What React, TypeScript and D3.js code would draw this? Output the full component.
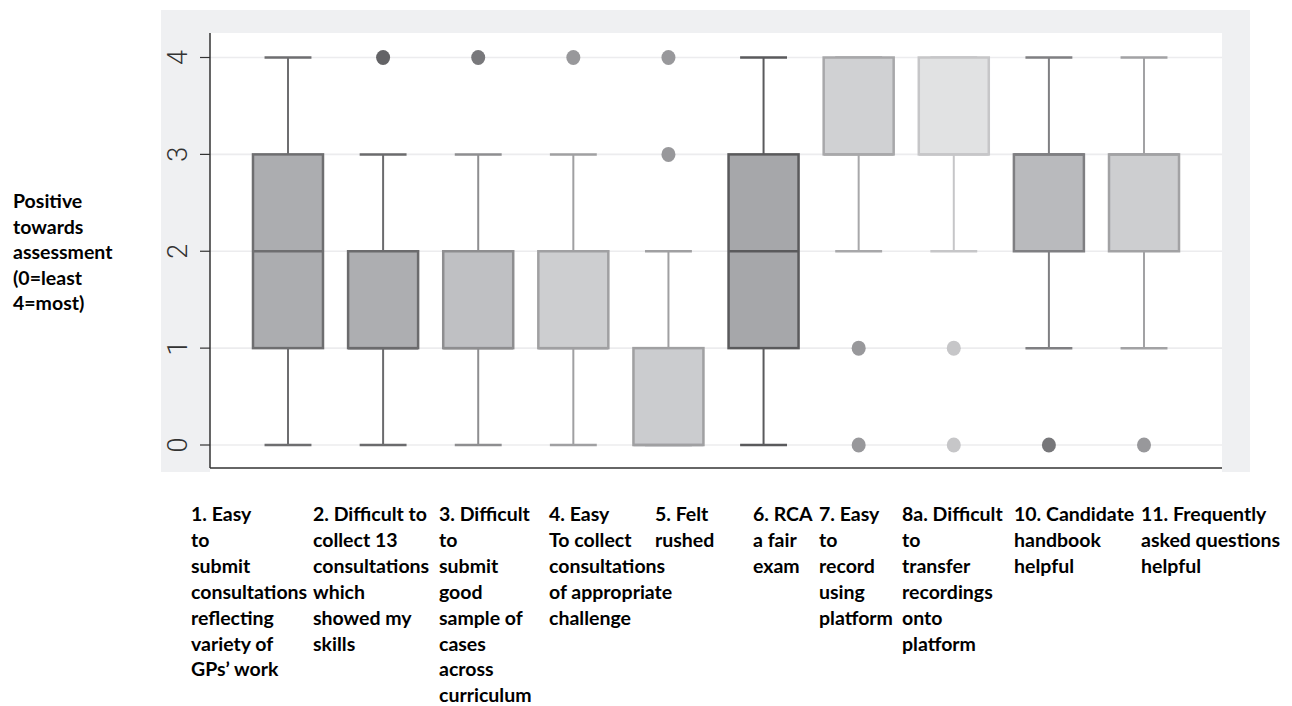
import React from "react";
import * as d3 from "d3";

// ---- data ----
const categories = ["1", "2", "3", "4", "5", "6", "7", "8a", "10", "11"];
const labelLines: string[][] = [
  ["1. Easy", "to", "submit", "consultations", "reflecting", "variety of", "GPs’ work"],
  ["2. Difficult to", "collect 13", "consultations", "which", "showed my", "skills"],
  ["3. Difficult", "to", "submit", "good", "sample of", "cases", "across", "curriculum"],
  ["4. Easy", "To collect", "consultations", "of appropriate", "challenge"],
  ["5. Felt", "rushed"],
  ["6. RCA", "a fair", "exam"],
  ["7. Easy", "to", "record", "using", "platform"],
  ["8a. Difficult", "to", "transfer", "recordings", "onto", "platform"],
  ["10. Candidate", "handbook", "helpful"],
  ["11. Frequently", "asked questions", "helpful"],
];
const lowerWhisker = [0, 0, 0, 0, 0, 0, 2, 2, 1, 1];
const q1 = [1, 1, 1, 1, 0, 1, 3, 3, 2, 2];
const median = [2, 1, 1, 1, 0, 2, 3, 3, 3, 3];
const q3 = [3, 2, 2, 2, 1, 3, 4, 4, 3, 3];
const upperWhisker = [4, 3, 3, 3, 2, 4, 4, 4, 4, 4];
const outliers: number[][] = [[], [4], [4], [4], [3, 4], [], [0, 1], [0, 1], [0], [0]];
const yTicks = [0, 1, 2, 3, 4];
const yTitle = ["Positive", "towards", "assessment", "(0=least", "4=most)"];

// ---- styles / layout ----
const fills = ["#acadb0", "#adaeb1", "#bfc0c3", "#cdced0", "#cbcccf", "#a6a7aa", "#d0d1d3", "#e1e2e3", "#b9babd", "#cdced0"];
const strokes = ["#6e6e70", "#6b6b6d", "#8e8e90", "#a0a0a2", "#a0a0a2", "#5a5a5c", "#a8a8aa", "#c6c6c8", "#7f7f82", "#a2a2a4"];
const dotColors = ["#6e6e70", "#636366", "#78787b", "#98989b", "#98989b", "#5a5a5c", "#98989b", "#c6c6c8", "#77777a", "#98989b"];
const labelX = [191, 313, 439, 549, 655, 753, 819, 902, 1014, 1141];

const W = 1292;
const H = 706;
const plot = { left: 210, right: 1222, top: 33, bottom: 472 };
const panel = { left: 161, right: 1250, top: 10, bottom: 472 };

export default function App() {
  const x = d3
    .scaleBand<string>()
    .domain(categories)
    .range([plot.left, plot.right])
    .paddingInner(0.264)
    .paddingOuter(0.452);
  const y = d3.scaleLinear().domain([0, 4]).range([445, 57.5]);
  const bw = x.bandwidth();
  const capW = bw * 0.67;
  const labelFont = "Lato, 'Open Sans', sans-serif";

  return (
    <svg
      width={W}
      height={H}
      style={{ position: "absolute", left: 0, top: 0, background: "#fff" }}
    >
      <rect x={panel.left} y={panel.top} width={panel.right - panel.left} height={panel.bottom - panel.top} fill="#eff0f2" />
      <rect x={plot.left} y={plot.top} width={plot.right - plot.left} height={plot.bottom - plot.top} fill="#ffffff" />
      {/* gridlines */}
      {yTicks.map((t) => (
        <line key={"g" + t} x1={plot.left} x2={plot.right} y1={y(t)} y2={y(t)} stroke="#ececee" strokeWidth={1.6} />
      ))}
      {/* boxes */}
      {categories.map((c, i) => {
        const cx = (x(c) as number) + bw / 2;
        const x0 = x(c) as number;
        return (
          <g key={c}>
            <line x1={cx} x2={cx} y1={y(q3[i])} y2={y(upperWhisker[i])} stroke={strokes[i]} strokeWidth={2} />
            <line x1={cx} x2={cx} y1={y(q1[i])} y2={y(lowerWhisker[i])} stroke={strokes[i]} strokeWidth={2} />
            <line x1={cx - capW / 2} x2={cx + capW / 2} y1={y(upperWhisker[i])} y2={y(upperWhisker[i])} stroke={strokes[i]} strokeWidth={2.5} />
            <line x1={cx - capW / 2} x2={cx + capW / 2} y1={y(lowerWhisker[i])} y2={y(lowerWhisker[i])} stroke={strokes[i]} strokeWidth={2.5} />
            <rect x={x0} y={y(q3[i])} width={bw} height={y(q1[i]) - y(q3[i])} fill={fills[i]} stroke={strokes[i]} strokeWidth={2.5} />
            <line x1={x0} x2={x0 + bw} y1={y(median[i])} y2={y(median[i])} stroke={strokes[i]} strokeWidth={2.5} />
            {outliers[i].map((v, j) => (
              <ellipse key={j} cx={cx} cy={y(v)} rx={7} ry={7.5} fill={dotColors[i]} />
            ))}
          </g>
        );
      })}
      {/* axes */}
      <line x1={plot.left} x2={plot.left} y1={plot.top} y2={468} stroke="#333" strokeWidth={1.5} />
      <line x1={plot.left} x2={plot.right} y1={468} y2={468} stroke="#333" strokeWidth={1.5} />
      {yTicks.map((t) => (
        <g key={"t" + t}>
          <line x1={200} x2={plot.left} y1={y(t)} y2={y(t)} stroke="#333" strokeWidth={1.2} />
          <text
            transform={`translate(178,${y(t)}) rotate(-90)`}
            textAnchor="middle"
            dominantBaseline="central"
            fontFamily="Roboto, 'Liberation Sans', sans-serif"
            fontWeight={300}
            fontSize={27}
            fill="#333"
          >
            {t}
          </text>
        </g>
      ))}
      {/* y title */}
      {yTitle.map((s, k) => (
        <text key={"y" + k} x={13} y={208 + k * 25.6} fontFamily={labelFont} fontWeight={700} fontSize={19.5} fill="#000">
          {s}
        </text>
      ))}
      {/* category labels */}
      {labelLines.map((lines, i) => (
        <g key={"l" + i}>
          {lines.map((s, k) => (
            <text key={k} x={labelX[i]} y={521 + k * 25.9} fontFamily={labelFont} fontWeight={700} fontSize={19.5} fill="#000">
              {s}
            </text>
          ))}
        </g>
      ))}
    </svg>
  );
}
